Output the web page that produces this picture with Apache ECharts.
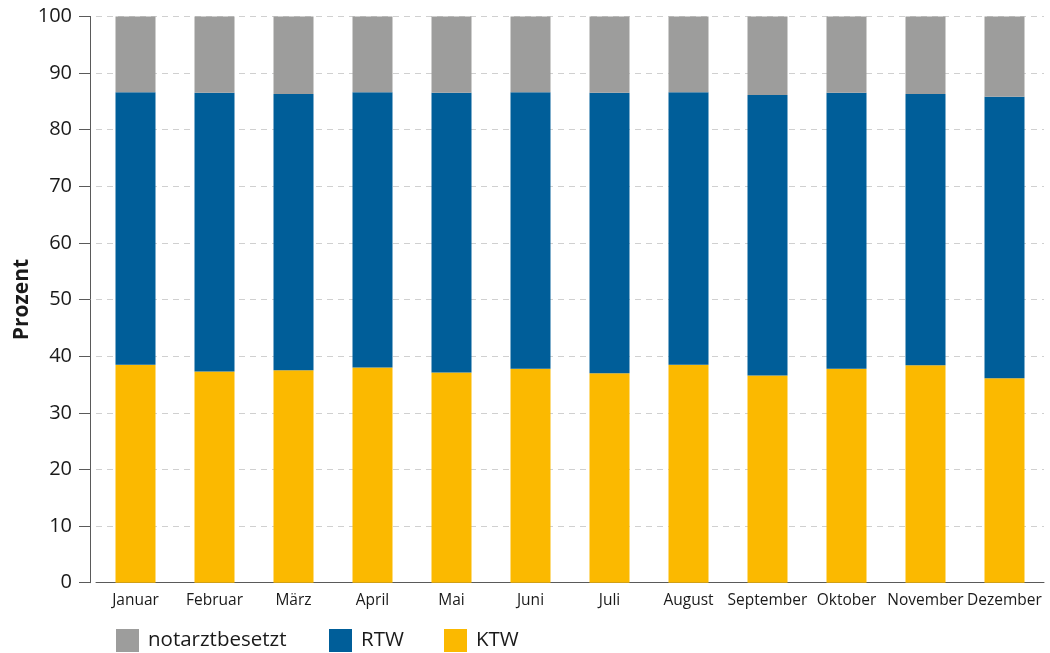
<!DOCTYPE html>
<html>
<head>
<meta charset="utf-8">
<script src="https://cdn.jsdelivr.net/npm/echarts@6/dist/echarts.min.js"></script>
<style>
  html, body { margin: 0; padding: 0; background: #fff; }
  #chart { width: 1050px; height: 653px; }
</style>
</head>
<body>
<div id="chart"></div>
<script>
// Monate
const months = ['Januar', 'Februar', 'März', 'April', 'Mai', 'Juni', 'Juli', 'August', 'September', 'Oktober', 'November', 'Dezember']

// Anteile in Prozent
const ktw = [38.5, 37.3, 37.5, 38.0, 37.1, 37.8, 37.0, 38.5, 36.6, 37.8, 38.4, 36.1]
const rtw = [48.1, 49.2, 48.8, 48.6, 49.4, 48.8, 49.5, 48.1, 49.5, 48.7, 47.9, 49.7]
const notarzt = [13.4, 13.5, 13.7, 13.4, 13.5, 13.4, 13.5, 13.4, 13.9, 13.5, 13.7, 14.2]

const yTicks = { min: 0, max: 100, interval: 10 }

// Farben
const colors = {
  notarzt: '#9d9d9c',
  rtw: '#005e99',
  ktw: '#fbb900'
}

const font = '"Open Sans", "Noto Sans", sans-serif'
const axisColor = '#5a5a5a'

const legendItem = (name, left) => ({
  data: [name],
  left: left,
  top: 629,
  padding: 0,
  itemWidth: 23,
  itemHeight: 23,
  icon: 'rect',
  selectedMode: false,
  textStyle: {
    fontFamily: font,
    fontSize: 20.5,
    color: '#1a1a1a',
    padding: [0, 0, 0, 4]
  }
})

const chart = echarts.init(document.getElementById('chart'))

const option = {
  animation: false,
  backgroundColor: '#fff',
  textStyle: { fontFamily: font },
  grid: {
    left: 96,
    right: 6,
    top: 16.4,
    bottom: 70.3,
    containLabel: false,
    outerBoundsMode: 'none'
  },
  legend: [
    legendItem('notarztbesetzt', 116),
    legendItem('RTW', 329),
    legendItem('KTW', 444)
  ],
  xAxis: {
    type: 'category',
    data: months,
    axisLine: { lineStyle: { color: axisColor, width: 1 } },
    axisTick: { show: false },
    axisLabel: {
      interval: 0,
      margin: 10,
      fontFamily: font,
      fontSize: 15.5,
      color: '#1a1a1a'
    }
  },
  yAxis: {
    type: 'value',
    min: yTicks.min,
    max: yTicks.max,
    interval: yTicks.interval,
    offset: 6,
    name: 'Prozent',
    nameLocation: 'middle',
    nameRotate: 90,
    nameGap: 57,
    nameMoveOverlap: false,
    nameTextStyle: {
      fontFamily: font,
      fontSize: 21,
      fontWeight: 'bold',
      color: '#1a1a1a'
    },
    axisLine: { show: true, lineStyle: { color: axisColor, width: 1 } },
    axisTick: { show: true, length: 11, lineStyle: { color: axisColor } },
    axisLabel: {
      margin: 18,
      fontFamily: font,
      fontSize: 20,
      color: '#1a1a1a'
    },
    splitLine: {
      show: true,
      lineStyle: { color: '#d0d0d0', type: [6, 5], width: 1 }
    }
  },
  series: [
    {
      name: 'KTW',
      type: 'bar',
      stack: 'total',
      barWidth: 40,
      data: ktw,
      itemStyle: { color: colors.ktw }
    },
    {
      name: 'RTW',
      type: 'bar',
      stack: 'total',
      barWidth: 40,
      data: rtw,
      itemStyle: { color: colors.rtw }
    },
    {
      name: 'notarztbesetzt',
      type: 'bar',
      stack: 'total',
      barWidth: 40,
      data: notarzt,
      itemStyle: { color: colors.notarzt }
    }
  ]
}

chart.setOption(option)
</script>
</body>
</html>
